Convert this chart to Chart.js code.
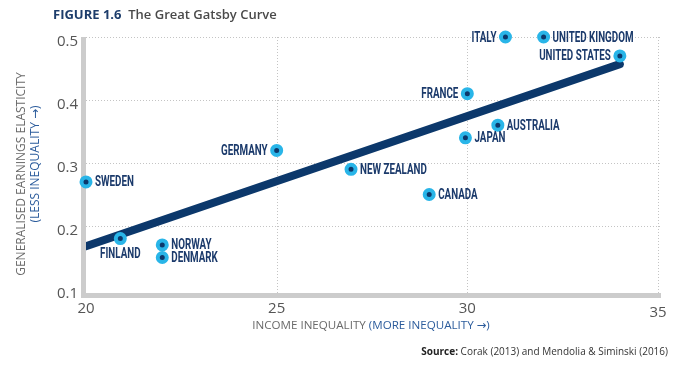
<!DOCTYPE html>
<html>
<head>
<meta charset="utf-8">
<script src="https://cdn.jsdelivr.net/npm/chart.js@4.4.1/dist/chart.umd.min.js"></script>
<style>
  html, body { margin: 0; padding: 0; background: #fff; }
  #wrap { width: 700px; height: 374px; position: relative; }
</style>
</head>
<body>
<div id="wrap"><canvas id="myChart" width="700" height="374"></canvas></div>
<script>
// country data: income inequality (x) vs generalised earnings elasticity (y)
const countries = ['ITALY', 'UNITED KINGDOM', 'UNITED STATES', 'FRANCE', 'AUSTRALIA', 'JAPAN',
    'NEW ZEALAND', 'CANADA', 'GERMANY', 'SWEDEN', 'FINLAND', 'NORWAY', 'DENMARK'];
const inequality = [31.0, 32.0, 34.0, 30.0, 30.8, 29.95, 26.95, 29.0, 25.0, 20.0, 20.9, 22.0, 22.0];
const elasticity = [0.50, 0.50, 0.47, 0.41, 0.36, 0.34, 0.29, 0.25, 0.32, 0.27, 0.18, 0.17, 0.15];

// fitted line end points
const trendX = [20, 34];
const trendY = [0.168, 0.457];

const xTicks = [20, 25, 30, 35];
const yTicks = [0.1, 0.2, 0.3, 0.4, 0.5];

const NAVY = '#0c386b';
const CYAN = '#29b5e8';
const LABEL_NAVY = '#1b3a6b';
const GREY_TEXT = '#555555';
const BLUE_TEXT = '#2c5c9c';
const GRID = '#c4c4c4';
const AXIS = '#cccccc';

// which side of the dot each name sits on
const labelSide = {
    'ITALY': 'left', 'UNITED STATES': 'left', 'FRANCE': 'left', 'GERMANY': 'left',
    'FINLAND': 'below'
};

const points = inequality.map((x, i) => ({ x: x, y: elasticity[i] }));
const trend = trendX.map((x, i) => ({ x: x, y: trendY[i] }));

function drawNarrow(ctx, text, x, y, align) {
    ctx.save();
    ctx.font = 'bold 14px Roboto, "DejaVu Sans", sans-serif';
    const squeeze = 0.7;
    const w = ctx.measureText(text).width * squeeze;
    let left = x;
    if (align === 'right') left = x - w;
    if (align === 'center') left = x - w / 2;
    ctx.translate(left, y);
    ctx.scale(squeeze, 1);
    ctx.textAlign = 'left';
    ctx.textBaseline = 'middle';
    ctx.fillStyle = LABEL_NAVY;
    ctx.fillText(text, 0, 0);
    ctx.restore();
}

function drawRun(ctx, parts, x, y, align) {
    // parts: [[text, font, color], ...]
    let total = 0;
    parts.forEach(p => { ctx.font = p[1]; total += ctx.measureText(p[0]).width; });
    let cx = x;
    if (align === 'center') cx = x - total / 2;
    if (align === 'right') cx = x - total;
    ctx.textAlign = 'left';
    parts.forEach(p => {
        ctx.font = p[1];
        ctx.fillStyle = p[2];
        ctx.fillText(p[0], cx, y);
        cx += ctx.measureText(p[0]).width;
    });
}

// dotted grid + thick grey axis lines
const gridLines = {
    id: 'gridLines',
    beforeDatasetsDraw(chart) {
        const ctx = chart.ctx;
        const area = chart.chartArea;
        const xs = chart.scales.x;
        const ys = chart.scales.y;
        const axisY = area.bottom + 4;
        ctx.save();
        ctx.strokeStyle = GRID;
        ctx.lineWidth = 1;
        ctx.setLineDash([1, 2]);
        yTicks.slice(1).forEach(v => {
            const py = Math.round(ys.getPixelForValue(v)) + 0.5;
            ctx.beginPath();
            ctx.moveTo(area.left, py);
            ctx.lineTo(area.right + 2, py);
            ctx.stroke();
        });
        xTicks.slice(1).forEach(v => {
            const px = Math.round(xs.getPixelForValue(v)) + 0.5;
            ctx.beginPath();
            ctx.moveTo(px, area.top);
            ctx.lineTo(px, axisY);
            ctx.stroke();
        });
        ctx.setLineDash([]);

        // axis bars
        ctx.fillStyle = AXIS;
        ctx.fillRect(area.left - 5, area.top, 5, axisY + 5 - area.top);
        ctx.fillRect(area.left - 5, axisY, area.right + 3 - (area.left - 5), 5);

        // x tick labels (the last one sits a little lower in the original)
        ctx.fillStyle = GREY_TEXT;
        ctx.font = '15px "Open Sans", sans-serif';
        ctx.textAlign = 'center';
        ctx.textBaseline = 'middle';
        xTicks.forEach(v => {
            const extra = v === xTicks[xTicks.length - 1] ? 4 : 0;
            ctx.fillText(String(v), xs.getPixelForValue(v), area.bottom + 20 + extra);
        });
        ctx.restore();
    }
};

const decorations = {
    id: 'decorations',
    afterDatasetsDraw(chart) {
        const ctx = chart.ctx;
        const meta = chart.getDatasetMeta(1);
        meta.data.forEach((el, i) => {
            const name = countries[i];
            const side = labelSide[name] || 'right';
            if (side === 'left') {
                drawNarrow(ctx, name, el.x - 9, el.y + 1, 'right');
            } else if (side === 'below') {
                drawNarrow(ctx, name, el.x, el.y + 16, 'center');
            } else {
                drawNarrow(ctx, name, el.x + 9, el.y + 1, 'left');
            }
        });
    },
    afterDraw(chart) {
        const ctx = chart.ctx;
        ctx.save();
        ctx.textBaseline = 'middle';

        // figure title
        drawRun(ctx, [
            ['FIGURE 1.6', 'bold 13px "Open Sans", sans-serif', '#1d3d6b'],
            ['  The Great Gatsby Curve', '600 13px "Open Sans", sans-serif', '#4a4a4a']
        ], 53, 15, 'left');

        // x axis title
        drawRun(ctx, [
            ['INCOME INEQUALITY ', '11.6px "Open Sans", "DejaVu Sans", sans-serif', '#6a6a6a'],
            ['(MORE INEQUALITY \u2192)', '11.6px "Open Sans", "DejaVu Sans", sans-serif', BLUE_TEXT]
        ], 371, 326, 'center');

        // y axis title, rotated
        ctx.save();
        ctx.translate(22, 174);
        ctx.rotate(-Math.PI / 2);
        drawRun(ctx, [
            ['GENERALISED EARNINGS ELASTICITY', '12px "Open Sans", "DejaVu Sans", sans-serif', '#6a6a6a']
        ], 0, 0, 'center');
        ctx.restore();
        ctx.save();
        ctx.translate(36, 164);
        ctx.rotate(-Math.PI / 2);
        drawRun(ctx, [
            ['(LESS INEQUALITY \u2192)', '12px "Open Sans", "DejaVu Sans", sans-serif', BLUE_TEXT]
        ], 0, 0, 'center');
        ctx.restore();

        // source line
        drawRun(ctx, [
            ['Source: ', 'bold 10px "Open Sans", sans-serif', '#222'],
            ['Corak (2013) and Mendolia & Siminski (2016)', '10px "Open Sans", sans-serif', '#333']
        ], 668, 352, 'right');

        ctx.restore();
    }
};

const ctx = document.getElementById('myChart').getContext('2d');

new Chart(ctx, {
    type: 'scatter',
    data: {
        datasets: [
            {
                type: 'line',
                label: 'Trend',
                data: trend,
                borderColor: NAVY,
                borderWidth: 8,
                borderCapStyle: 'round',
                pointRadius: 0,
                order: 2
            },
            {
                label: 'Countries',
                data: points,
                backgroundColor: NAVY,
                borderColor: CYAN,
                borderWidth: 4,
                pointRadius: 4.5,
                pointHoverRadius: 4.5,
                clip: false,
                order: 1
            }
        ]
    },
    options: {
        responsive: false,
        animation: false,
        layout: {
            padding: { left: 0, top: 37, right: 42, bottom: 0 }
        },
        plugins: {
            legend: { display: false },
            tooltip: { enabled: false }
        },
        scales: {
            x: {
                type: 'linear',
                min: 20,
                max: 35,
                afterBuildTicks: axis => { axis.ticks = xTicks.map(v => ({ value: v })); },
                afterFit: axis => { axis.height = 85; },
                ticks: { display: false },
                grid: { display: false },
                border: { display: false }
            },
            y: {
                type: 'linear',
                min: 0.1,
                max: 0.5,
                afterBuildTicks: axis => { axis.ticks = yTicks.map(v => ({ value: v })); },
                afterFit: axis => { axis.width = 86; },
                ticks: {
                    color: GREY_TEXT,
                    padding: 8,
                    labelOffset: 5,
                    font: { family: '"Open Sans", sans-serif', size: 15 },
                    callback: v => v.toFixed(1)
                },
                grid: { display: false, drawTicks: false },
                border: { display: false }
            }
        }
    },
    plugins: [gridLines, decorations]
});
</script>
</body>
</html>
